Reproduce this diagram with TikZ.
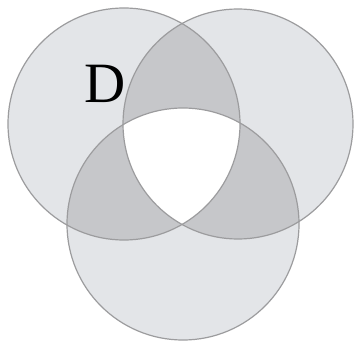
\documentclass[tikz,border=0pt]{standalone}
\usepackage{fontspec}
\setmainfont{Liberation Serif}
\definecolor{lightg}{HTML}{E3E5E8}
\definecolor{darkg}{HTML}{C6C7CA}
\definecolor{edgeg}{HTML}{9C9C9E}
\begin{document}
\begin{tikzpicture}[x=1pt,y=-1pt]
\tikzset{ring/.style={draw=edgeg,line width=1.2pt}}
\useasboundingbox (0,0) rectangle (355,347);
\fill[white] (0,0) rectangle (355,347);
\def\ca{(124,124) circle (116)}
\def\cb{(238,124) circle (115)}
\def\cc{(183,224) circle (116)}
\fill[lightg] \ca; \fill[lightg] \cb; \fill[lightg] \cc;
\begin{scope}\clip \ca; \fill[darkg] \cb; \fill[darkg] \cc;\end{scope}
\begin{scope}\clip \cb; \fill[darkg] \cc;\end{scope}
\begin{scope}\clip \ca; \clip \cb; \fill[white] \cc;\end{scope}
\draw[ring] \ca; \draw[ring] \cb; \draw[ring] \cc;
\node[font=\fontsize{57}{57}\selectfont,inner sep=0pt] (D) at (105,84) {D};
\end{tikzpicture}
\end{document}
